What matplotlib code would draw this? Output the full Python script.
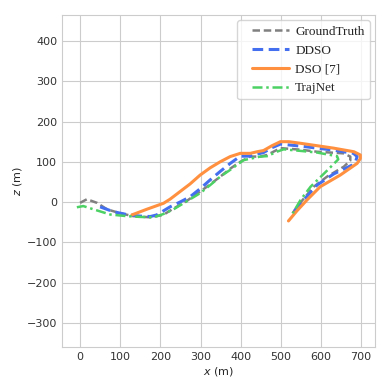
import matplotlib
matplotlib.use("Agg")
import matplotlib.pyplot as plt
import seaborn as sns
from matplotlib.legend_handler import HandlerLine2D
from matplotlib.lines import Line2D

# trajectories (x, z in metres)
gt_x = [0, 17, 42, 67, 100, 132, 175, 207, 233, 266, 299, 324, 349, 374, 399,
        424, 449, 466, 499, 550, 590, 656, 673, 673, 657, 615, 582, 544, 532, 528]
gt_z = [-2, 7, -2, -18, -28, -35, -38, -32, -16, 3, 26, 44, 63, 83, 100,
        113, 113, 117, 134, 130, 125, 121, 113, 103, 88, 63, 38, -7, -24, -30]

ddso_x = [50, 83, 116, 150, 175, 191, 224, 249, 274, 299, 324, 349, 374, 399, 424,
          441, 457, 478, 499, 549, 631, 681, 690, 686, 678, 632, 590, 557, 536, 528]
ddso_z = [-12, -24, -31, -35, -36, -32, -12, 0, 13, 33, 55, 76, 96, 114, 114,
          119, 123, 135, 144, 139, 129, 121, 113, 100, 92, 70, 42, 5, -20, -30]

dso_x = [129, 166, 208, 224, 249, 274, 299, 324, 349, 374, 399, 424, 441, 457, 478,
         499, 520, 549, 590, 631, 682, 698, 698, 690, 648, 598, 565, 540, 519]
dso_z = [-32, -18, -3, 7, 26, 45, 67, 85, 100, 113, 121, 121, 125, 128, 140,
         150, 150, 146, 140, 134, 125, 117, 108, 96, 67, 38, 5, -22, -47]

traj_x = [-8, 8, 33, 75, 116, 150, 183, 207, 233, 266, 299, 324, 349, 374, 407,
          449, 466, 490, 507, 550, 590, 640, 643, 615, 574, 549, 532, 530]
traj_z = [-13, -10, -18, -31, -35, -37, -38, -30, -18, 2, 22, 42, 63, 80, 104,
          113, 114, 125, 131, 127, 123, 114, 106, 78, 38, 5, -24, -28]

sns.set_style("whitegrid")

fig = plt.figure(figsize=(3.9, 3.92), dpi=100)
ax = fig.add_axes([0.159, 0.115, 0.803, 0.847])

common = dict(solid_joinstyle="round", dash_joinstyle="round")
ax.plot(gt_x, gt_z, color="#808080", linestyle=(0, (3, 1.5)), linewidth=1.8,
        label="GroundTruth", **common)
ax.plot(ddso_x, ddso_z, color="#4470f0", linestyle=(0, (3.5, 1.8)), linewidth=2.2,
        label="DDSO", **common)
ax.plot(dso_x, dso_z, color="#ff9040", linestyle="-", linewidth=2.2,
        label="DSO [7]", **common)
ax.plot(traj_x, traj_z, color="#4cd164", linestyle=(0, (4, 1.5, 1, 1.5)), linewidth=1.8,
        label="TrajNet", **common)

ax.set_xlim(-45, 735)
ax.set_ylim(-360, 465)
ax.set_xticks(range(0, 701, 100))
ax.set_yticks(range(-300, 401, 100))
ax.tick_params(labelsize=8, colors="#333333", length=0)
ax.set_xlabel("$x$ (m)", fontsize=8, labelpad=2)
ax.set_ylabel("$z$ (m)", fontsize=8, labelpad=2)

ax.legend(loc="upper right", prop={"family": "Liberation Serif", "size": 9.5},
          frameon=True, handlelength=3.56, handletextpad=0.45,
          borderaxespad=0.4, handler_map={Line2D: HandlerLine2D(xpad=0.73)})

fig.savefig("out.png", dpi=100)
